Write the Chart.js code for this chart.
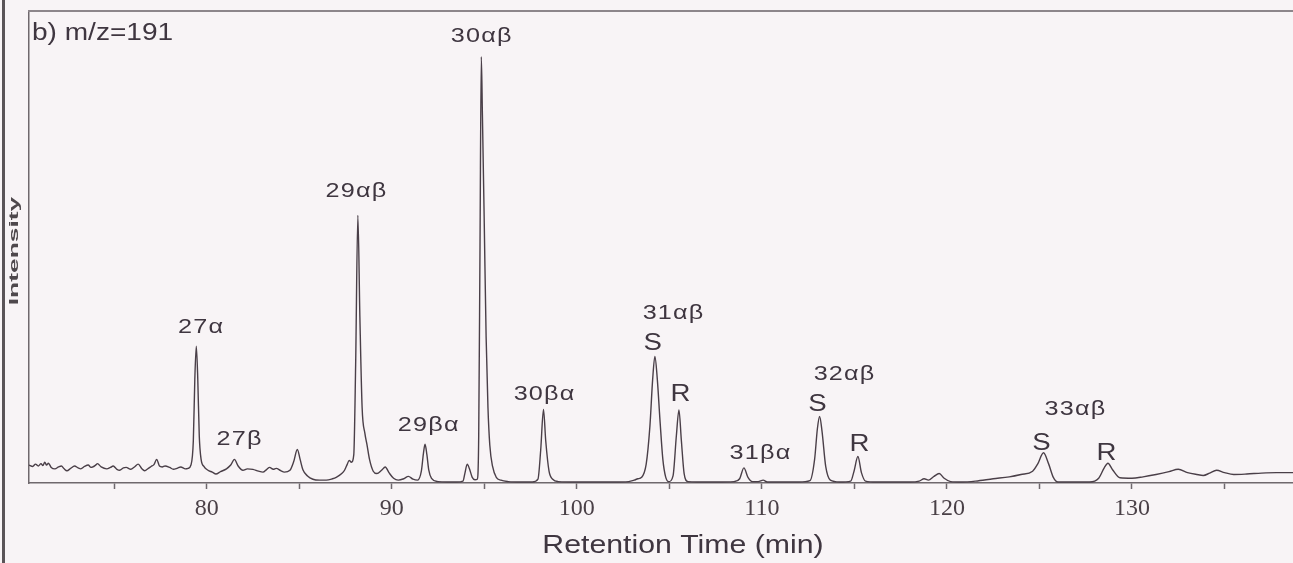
<!DOCTYPE html>
<html>
<head>
<meta charset="utf-8">
<script src="https://cdn.jsdelivr.net/npm/chart.js@4.4.1/dist/chart.umd.min.js"></script>
<style>
  html, body { margin: 0; padding: 0; background: #f8f4f6; }
  canvas { display: block; }
</style>
</head>
<body>
<canvas id="chromatogram" width="1293" height="563"></canvas>
<script>
// m/z 191 trace (time in min, intensity in arbitrary units)
const retentionTime = [
  70.4, 70.6, 70.75, 70.9, 71.05, 71.15, 71.25, 71.35, 71.45, 71.6, 71.8, 72.0, 72.15, 72.3, 72.45, 72.65,
  72.86, 73.05, 73.2, 73.4, 73.6, 73.75, 73.85, 74.0, 74.1, 74.3, 74.6, 74.8, 74.95, 75.15, 75.3, 75.5,
  75.65, 75.9, 76.1, 76.3, 76.5, 76.65, 76.85, 77.0, 77.15, 77.3, 77.45, 77.6, 77.75, 78.0, 78.2, 78.4,
  78.6, 78.85, 79.0, 79.15, 79.28, 79.36, 79.44, 79.52, 79.6, 79.7, 79.85, 80.07, 80.3, 80.5, 80.75, 81.07,
  81.3, 81.5, 81.7, 81.96, 82.2, 82.5, 82.8, 83.04, 83.25, 83.4, 83.6, 83.76, 84.0, 84.2, 84.5, 84.7,
  84.9, 85.05, 85.2, 85.45, 85.74, 86.1, 86.46, 86.8, 87.0, 87.3, 87.45, 87.6, 87.7, 87.82, 87.95, 88.05,
  88.17, 88.28, 88.4, 88.55, 88.66, 88.8, 89.0, 89.2, 89.45, 89.65, 89.85, 90.1, 90.35, 90.65, 90.9, 91.15,
  91.4, 91.6, 91.72, 91.8, 91.9, 92.0, 92.15, 92.5, 93.0, 93.5, 93.85, 93.95, 94.08, 94.2, 94.35, 94.5,
  94.62, 94.7, 94.77, 94.84, 94.9, 95.0, 95.1, 95.2, 95.3, 95.45, 95.65, 95.9, 96.3, 97.0, 97.6, 97.9,
  98.05, 98.2, 98.32, 98.5, 98.7, 99.0, 100.0, 101.0, 102.0, 102.8, 103.1, 103.3, 103.5, 103.75, 103.95, 104.1,
  104.22, 104.35, 104.5, 104.65, 104.8, 104.97, 105.2, 105.38, 105.52, 105.65, 105.8, 106.0, 106.5, 107.5, 108.5, 108.8,
  109.03, 109.25, 109.5, 109.8, 110.07, 110.3, 111.0, 112.0, 112.6, 112.85, 113.0, 113.12, 113.25, 113.45, 113.7, 114.2,
  114.8, 114.98, 115.19, 115.38, 115.6, 116.2, 117.0, 118.0, 118.5, 118.77, 119.0, 119.3, 119.58, 119.85, 120.2, 120.8,
  121.55, 122.5, 123.37, 124.0, 124.63, 124.9, 125.22, 125.5, 125.75, 126.0, 126.8, 127.7, 128.2, 128.5, 128.7, 128.95,
  129.35, 130.0, 130.6, 131.3, 132.0, 132.5, 133.0, 133.5, 133.85, 134.2, 134.57, 135.0, 135.5, 136.2, 137.0, 137.8,
  138.7
];
const intensity = [
  3.8, 3.5, 4.0, 3.6, 4.1, 3.7, 4.4, 3.8, 4.2, 3.3, 3.0, 3.4, 3.6, 3.0, 2.6, 3.1,
  3.6, 3.2, 3.0, 3.5, 3.8, 3.3, 3.4, 3.8, 4.1, 3.4, 3.0, 3.3, 3.6, 2.9, 2.7, 3.2,
  3.3, 2.9, 3.4, 4.0, 3.0, 2.6, 3.1, 3.5, 3.9, 5.0, 3.6, 3.4, 3.6, 3.3, 2.9, 3.1,
  3.4, 3.0, 3.1, 3.8, 9.0, 22.0, 29.0, 22.0, 10.0, 5.0, 3.5, 2.7, 2.3, 1.9, 2.4, 3.0,
  3.8, 5.0, 3.6, 2.7, 3.0, 2.9, 2.5, 2.3, 2.9, 3.3, 2.9, 3.1, 2.6, 2.3, 2.7, 4.5,
  7.1, 5.0, 2.8, 1.5, 0.8, 0.6, 0.6, 0.9, 1.2, 2.0, 2.7, 4.0, 4.8, 4.4, 6.0, 25.0,
  56.7, 35.0, 16.0, 10.5, 8.2, 5.0, 2.5, 2.0, 2.7, 3.4, 2.2, 1.0, 0.6, 0.9, 1.4, 0.8,
  0.6, 2.5, 6.5, 8.2, 6.0, 2.8, 1.0, 0.3, 0.2, 0.2, 0.4, 2.0, 4.0, 3.0, 1.2, 0.7,
  0.8, 10.0, 50.0, 90.3, 78.0, 55.0, 31.0, 16.0, 8.0, 3.5, 1.2, 0.6, 0.3, 0.2, 0.2, 0.8,
  7.0, 15.6, 9.0, 2.5, 0.8, 0.3, 0.2, 0.2, 0.2, 0.3, 0.6, 0.9, 1.2, 4.0, 12.0, 22.0,
  26.8, 22.0, 13.0, 5.0, 1.3, 0.3, 1.5, 10.0, 15.5, 9.0, 2.0, 0.3, 0.2, 0.2, 0.3, 0.9,
  3.2, 1.2, 0.3, 0.3, 0.6, 0.2, 0.2, 0.2, 0.5, 5.0, 11.5, 14.1, 11.0, 3.5, 0.6, 0.2,
  0.4, 2.5, 5.6, 2.2, 0.4, 0.2, 0.2, 0.2, 0.4, 0.9, 0.6, 1.4, 2.0, 1.0, 0.3, 0.2,
  0.4, 0.9, 1.3, 1.8, 2.5, 4.0, 6.4, 4.0, 1.2, 0.2, 0.2, 0.2, 1.0, 3.2, 4.2, 2.8,
  1.1, 1.0, 1.3, 1.8, 2.4, 2.9, 2.2, 1.8, 1.6, 2.1, 2.7, 2.2, 1.8, 1.9, 2.1, 2.2,
  2.2
];

// peak annotations: text, retention time and height of the label centre
const peakLabels = ['27α', '27β', '29αβ', '29βα', '30αβ', '30βα', '31αβ', 'S', 'R', '31βα', '32αβ', 'S', 'R', '33αβ', 'S', 'R'];
const peakLabelTime = [79.70, 81.78, 88.10, 92.0, 94.86, 98.26, 105.23, 104.1, 105.6, 109.93, 114.47, 113.01, 115.28, 126.95, 125.11, 128.62];
const peakLabelHeight = [33.3, 9.7, 62.1, 12.7, 95.0, 19.1, 36.4, 29.9, 19.1, 6.6, 23.5, 16.9, 8.5, 15.9, 8.7, 6.6];

const panelTitle = 'b) m/z=191';
const xTitle = 'Retention Time (min)';
const yTitle = 'Intensity';

const points = retentionTime.map((t, i) => ({ x: t, y: intensity[i] }));

const inkColor = '#3f3640';
const axisColor = '#6f686d';

// text in the scan is stretched sideways, so draw it with a horizontal scale
function drawText(ctx, text, x, y, font, sx, align) {
    ctx.save();
    ctx.font = font;
    ctx.fillStyle = inkColor;
    ctx.textAlign = align || 'center';
    ctx.textBaseline = 'alphabetic';
    ctx.translate(x, y);
    ctx.scale(sx, 1);
    ctx.fillText(text, 0, 0);
    ctx.restore();
}

const annotationPlugin = {
    id: 'annotations',
    afterDraw(chart) {
        const ctx = chart.ctx;
        const area = chart.chartArea;
        const xs = chart.scales.x;
        const ys = chart.scales.y;

        // top frame line
        ctx.save();
        ctx.strokeStyle = '#8d868b';
        ctx.lineWidth = 2;
        ctx.beginPath();
        ctx.moveTo(area.left - 1, area.top);
        ctx.lineTo(area.right, area.top);
        ctx.stroke();

        // dark edge of the scanned page
        ctx.strokeStyle = '#5a5458';
        ctx.lineWidth = 3;
        ctx.beginPath();
        ctx.moveTo(3.5, 0);
        ctx.lineTo(3.5, chart.height);
        ctx.stroke();
        ctx.restore();

        drawText(ctx, panelTitle, 32, 40, '23px "Liberation Sans", Arial, sans-serif', 1.22, 'left');
        drawText(ctx, xTitle, 683, 553, '25px "Liberation Sans", Arial, sans-serif', 1.21, 'center');

        peakLabels.forEach((label, i) => {
            const px = xs.getPixelForValue(peakLabelTime[i]);
            const py = ys.getPixelForValue(peakLabelHeight[i]);
            const single = label.length === 1;
            const size = single ? 23 : 21;
            ctx.save();
            ctx.letterSpacing = single ? '0px' : '1px';
            drawText(ctx, label, px, py + size * 0.358, size + 'px "Liberation Sans", Arial, sans-serif', 1.2, 'center');
            ctx.restore();
        });

        // rotated y title
        ctx.save();
        ctx.translate(15, 251);
        ctx.rotate(-Math.PI / 2);
        ctx.scale(2.2, 1);
        ctx.font = 'bold 12px "Liberation Sans", Arial, sans-serif';
        ctx.fillStyle = '#4e484c';
        ctx.textAlign = 'center';
        ctx.textBaseline = 'middle';
        ctx.fillText(yTitle, 0, 0);
        ctx.restore();
    }
};

const ctx = document.getElementById('chromatogram').getContext('2d');

const chromatogram = new Chart(ctx, {
    type: 'line',
    data: {
        datasets: [{
            data: points,
            borderColor: '#4a3f48',
            borderWidth: 1.4,
            pointRadius: 0,
            cubicInterpolationMode: 'monotone',
            fill: false
        }]
    },
    options: {
        responsive: false,
        animation: false,
        devicePixelRatio: 1,
        layout: { padding: { top: 11, right: 0, bottom: 0, left: 0 } },
        plugins: {
            legend: { display: false },
            tooltip: { enabled: false }
        },
        scales: {
            x: {
                type: 'linear',
                min: 70.4,
                max: 138.7,
                afterFit: function(scale) { scale.height = 80; },
                ticks: {
                    stepSize: 5,
                    includeBounds: false,
                    autoSkip: false,
                    maxRotation: 0,
                    padding: 5,
                    color: '#4a4047',
                    font: { family: '"Liberation Serif", "Times New Roman", serif', size: 24 },
                    callback: function(value) { return value % 10 === 0 ? value : ''; }
                },
                grid: {
                    drawOnChartArea: false,
                    drawTicks: true,
                    tickLength: 6,
                    tickWidth: 1.5,
                    tickColor: axisColor
                },
                border: { display: true, color: axisColor, width: 1.5 }
            },
            y: {
                min: 0,
                max: 100,
                afterFit: function(scale) { scale.width = 29; },
                ticks: { display: false },
                grid: { display: false },
                border: { display: true, color: axisColor, width: 1.5 }
            }
        }
    },
    plugins: [annotationPlugin]
});
</script>
</body>
</html>
